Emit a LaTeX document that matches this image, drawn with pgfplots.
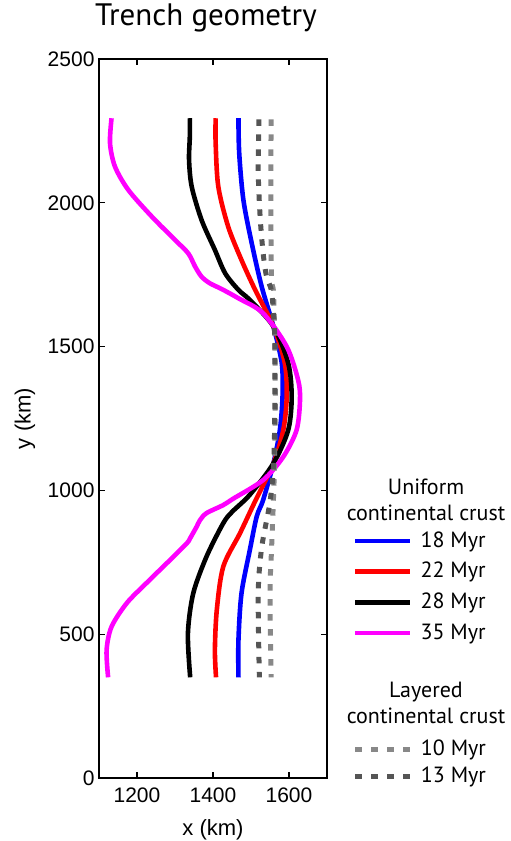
\documentclass[border=0pt]{standalone}
\usepackage{fontspec}
\setmainfont{Liberation Sans}
\newfontfamily\humanist{PT Sans}
\usepackage{pgfplots}
\pgfplotsset{compat=1.18}

\definecolor{lightdash}{RGB}{136,136,136}
\definecolor{darkdash}{RGB}{85,85,85}
\definecolor{puremagenta}{RGB}{255,0,255}
\definecolor{pureblue}{RGB}{0,0,255}
\definecolor{purered}{RGB}{255,0,0}

\pgfplotsset{
  frame/.style={
    at={(99pt,63pt)}, anchor=south west,
    scale only axis, width=228pt, height=719pt,
    xmin=1100, xmax=1700, ymin=0, ymax=2500,
  },
  trench/.style={line width=4.6pt, smooth, tension=0.5, no markers},
  layered/.style={line width=5pt, smooth, tension=0.5, no markers, dash pattern=on 6.5pt off 8.5pt},
  legendbox/.style={
    legend cell align=left,
    legend style={draw=none, fill=none, inner sep=0pt, outer sep=0pt,
      anchor=north west,
      font=\humanist\fontsize{22}{24}\selectfont,
      nodes={inner sep=0pt, text height=16pt, text depth=4pt},
      /tikz/every odd column/.style={column sep=8pt}},
    legend image code/.code={\draw[##1] (0pt,0pt) -- (55pt,0pt);},
  },
}

\begin{document}
\begin{tikzpicture}
\useasboundingbox (0pt,0pt) rectangle (511pt,841pt);

\begin{axis}[
  frame,
  xtick={1200,1400,1600},
  ytick={0,500,1000,1500,2000,2500},
  tick align=inside,
  major tick length=6pt,
  axis line style={line width=1.4pt},
  tick style={line width=1.2pt, black},
  tick label style={font=\fontsize{21}{24}\selectfont},
  /pgf/number format/assume math mode=true,
  /pgf/number format/set thousands separator={},
  xticklabel style={yshift=-6pt},
  yticklabel style={xshift=-1pt},
  xlabel={x (km)},
  ylabel={y (km)},
  label style={font=\fontsize{22}{24}\selectfont},
  xlabel style={at={(axis description cs:0.5,-0.0723)}, anchor=center},
  ylabel style={at={(axis description cs:-0.3246,0.5)}, anchor=center},
  title={\humanist Trench geometry},
  title style={at={(axis description cs:0.469,1.0389)}, anchor=base,
    font=\fontsize{31}{33}\selectfont},
  legendbox,
  legend style={at={(axis description cs:1.114,0.3435)}, row sep=10.7pt},
]
% uniform continental crust
\addplot[trench, pureblue] coordinates {
 (1467,2294) (1469,2172) (1480,2010) (1502,1859) (1528,1709) (1559,1570)
 (1581,1442) (1583,1326) (1576,1210) (1559,1094) (1532,967) (1515,909)
 (1497,793) (1475,642) (1467,480) (1467,350)};
\addlegendentry{18 Myr}
\addplot[trench, purered] coordinates {
 (1407,2294) (1407,2207) (1414,2056) (1440,1917) (1475,1801) (1511,1697)
 (1559,1570) (1589,1442) (1594,1326) (1585,1210) (1559,1094) (1510,960)
 (1471,851) (1427,735) (1410,584) (1405,445) (1408,350)};
\addlegendentry{22 Myr}
\addplot[trench, black] coordinates {
 (1339,2294) (1339,2230) (1337,2149) (1344,2056) (1370,1940) (1405,1836)
 (1432,1755) (1467,1697) (1497,1662) (1559,1570) (1598,1442) (1607,1326)
 (1598,1210) (1559,1094) (1497,985) (1450,925) (1427,886) (1383,770)
 (1348,642) (1334,503) (1340,350)};
\addlegendentry{28 Myr}
\addplot[trench, puremagenta] coordinates {
 (1133,2294) (1129,2207) (1142,2126) (1177,2045) (1239,1952) (1300,1871)
 (1335,1824) (1353,1778) (1370,1743) (1392,1720) (1423,1700) (1467,1668)
 (1532,1616) (1594,1500) (1624,1384) (1629,1314) (1620,1210) (1585,1117)
 (1532,1036) (1453,971) (1427,949) (1383,921) (1366,897) (1357,874)
 (1340,834) (1331,816) (1287,758) (1225,678) (1173,608) (1133,526)
 (1120,445) (1124,350)};
\addlegendentry{35 Myr}
% layered continental crust
\addplot[layered, lightdash, forget plot] coordinates {
 (1553,2290) (1552,2010) (1554,1743) (1559,1691) (1562,1550) (1564,1330)
 (1562,1100) (1559,967) (1554,793) (1550,642) (1553,350)};
\addplot[layered, darkdash, forget plot] coordinates {
 (1521,2290) (1519,2114) (1524,1952) (1532,1824) (1541,1743) (1554,1691)
 (1562,1550) (1563,1330) (1560,1100) (1550,960) (1528,800) (1519,642)
 (1522,350)};
\end{axis}

% legend of the layered-crust runs
\begin{axis}[
  frame, hide axis,
  legendbox,
  legend style={at={(axis description cs:1.114,0.0542)}, row sep=7pt},
]
\addlegendimage{line width=5pt, lightdash, dash pattern=on 7pt off 9pt}
\addlegendentry{10 Myr}
\addlegendimage{line width=5pt, darkdash, dash pattern=on 7pt off 9pt}
\addlegendentry{13 Myr}
\end{axis}

% group headings
\node[align=center, font=\humanist\fontsize{22}{26}\selectfont] at (426pt,341pt) {Uniform\\continental crust};
\node[align=center, font=\humanist\fontsize{22}{26}\selectfont] at (426pt,138pt) {Layered\\continental crust};
\end{tikzpicture}
\end{document}
